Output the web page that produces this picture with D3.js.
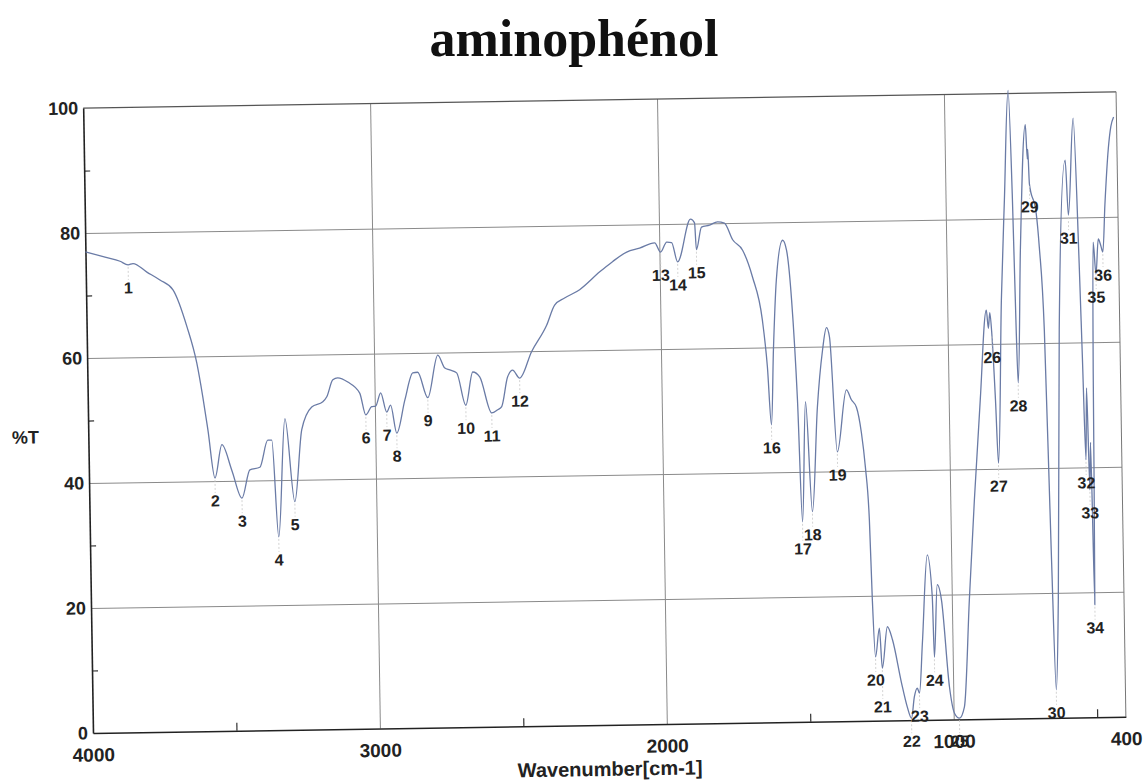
<!DOCTYPE html>
<html>
<head>
<meta charset="utf-8">
<script src="https://cdn.jsdelivr.net/npm/d3@7"></script>
<style>
  body { margin: 0; background: #fff; }
  svg { display: block; }
</style>
</head>
<body>
<svg id="chart" width="1144" height="783"></svg>
<script>
// IR spectrum of aminophenol: wavenumber (cm-1) against transmittance (%T)
const wavenumbers = [
  4000, 3932, 3880, 3852, 3835, 3787, 3742, 3697, 3650, 3618, 3599, 3583, 3561, 3535, 3502,
  3468, 3439, 3404, 3375, 3361, 3342, 3314, 3284, 3256, 3220, 3181, 3167, 3145, 3128, 3093,
  3052, 3032, 3011, 2997, 2979, 2959, 2945, 2925, 2895, 2866, 2849, 2815, 2778, 2754, 2737,
  2713, 2683, 2657, 2633, 2593, 2572, 2558, 2536, 2518, 2494, 2451, 2397, 2368, 2333, 2280,
  2209, 2164, 2114, 2069, 2016, 1996, 1974, 1957, 1937, 1890, 1876, 1871, 1852, 1824, 1796,
  1772, 1744, 1710, 1677, 1645, 1630, 1619, 1608, 1594, 1570, 1557, 1542, 1527, 1516, 1499,
  1481, 1458, 1437, 1422, 1412, 1391, 1356, 1339, 1322, 1306, 1294, 1283, 1277, 1269, 1254,
  1246, 1226, 1209, 1180, 1161, 1147, 1136, 1125, 1118, 1105, 1083, 1068, 1064, 1050, 1036,
  1013, 997, 980, 962, 939, 916, 890, 864, 858, 852, 846, 837, 830, 811, 795,
  776, 767, 761, 757, 742, 718, 713, 711, 707, 685, 676, 663, 651, 641, 629,
  611, 581, 573, 551, 538, 532, 525, 519, 513, 508, 502, 495, 488, 480, 470,
  462, 455, 445, 430, 420, 410
];
const transmittance = [
  77.0, 76.1, 75.4, 74.8, 75.0, 73.6, 72.3, 70.7, 64.7, 58.9, 53.5, 48.2, 40.5, 45.8, 41.7,
  37.2, 41.7, 42.1, 46.4, 46.4, 30.9, 49.8, 36.5, 48.0, 51.6, 52.4, 53.2, 55.9, 56.2, 55.5,
  53.7, 50.2, 51.5, 51.6, 53.7, 50.6, 51.7, 47.2, 52.5, 56.8, 56.9, 52.8, 59.6, 57.5, 57.2,
  56.7, 51.5, 56.8, 56.0, 50.2, 50.7, 51.2, 55.9, 57.0, 55.7, 59.9, 64.1, 67.3, 68.4, 69.7,
  72.5, 74.1, 75.6, 76.2, 77.0, 75.5, 77.1, 77.0, 73.9, 80.7, 80.1, 75.8, 79.4, 79.7, 80.2,
  80.0, 77.3, 75.6, 71.3, 64.4, 56.9, 47.6, 59.6, 70.8, 77.1, 75.5, 67.5, 51.5, 32.0, 51.2,
  33.6, 50.3, 59.4, 63.0, 61.5, 43.1, 53.0, 51.4, 50.2, 46.1, 40.6, 32.1, 19.3, 10.2, 14.8,
  8.4, 15.0, 12.9, 6.0, 2.1, 0.3, 3.7, 5.1, 4.3, 12.3, 26.4, 19.7, 10.0, 21.6, 19.1,
  5.2, 1.0, 0.2, 2.0, 19.1, 35.1, 51.1, 65.4, 62.5, 65.0, 61.5, 51.0, 40.9, 67.0, 83.0,
  100.5, 83.0, 62.2, 53.7, 75.0, 95.0, 89.5, 91.0, 85.5, 80.8, 75.4, 62.1, 26.9, 4.5, 18.9,
  62.1, 89.2, 80.4, 95.9, 72.7, 58.0, 41.2, 52.7, 36.4, 44.0, 18.0, 55.0, 76.0, 70.9, 76.5,
  75.5, 74.4, 82.0, 91.0, 94.5, 96.0
];

// numbered absorption bands
const peakNumbers = [
  1, 2, 3, 4, 5, 6, 7, 8, 9, 10, 11, 12, 13, 14, 15, 16, 17, 18,
  19, 20, 21, 22, 23, 24, 25, 26, 27, 28, 29, 30, 31, 32, 33, 34, 35, 36
];
const peakWavenumbers = [
  3852, 3561, 3468, 3342, 3284, 3032, 2959, 2925, 2815, 2683, 2593, 2494, 1996, 1937, 1871, 1619, 1516, 1481,
  1391, 1269, 1246, 1147, 1118, 1064, 980, 846, 830, 757, 707, 641, 573, 525, 513, 502, 480, 455
];

const xTicks = [4000, 3000, 2000, 1000, 400];
const xMinorTicks = [3500, 2500, 1500, 500];
const xGrid = [3000, 2000, 1000];
const yTicks = [0, 20, 40, 60, 80, 100];
const yMinorTicks = [10, 30, 50, 70, 90];
const yGrid = [20, 40, 60, 80];

const plotLeft = 93, plotRight = 1126, plotTop = 108, plotBottom = 733;
const x = d3.scaleLinear().domain([4000, 400]).range([plotLeft, plotRight]);
const y = d3.scaleLinear().domain([0, 100]).range([plotBottom, plotTop]);

const svg = d3.select("#chart");
const sans = "'Liberation Sans', Arial, sans-serif";

svg.append("text")
  .attr("x", 574).attr("y", 56)
  .attr("text-anchor", "middle")
  .attr("font-family", "'Liberation Serif', 'Times New Roman', serif")
  .attr("font-weight", "bold")
  .attr("font-size", 52)
  .attr("fill", "#111")
  .text("aminophénol");

// the printed sheet sits slightly tilted
const g = svg.append("g").attr("transform", `rotate(-0.9, ${plotLeft}, ${plotBottom})`);

// grid
g.append("g")
  .attr("transform", `translate(0,${plotBottom})`)
  .call(d3.axisBottom(x).tickValues(xGrid).tickSize(-(plotBottom - plotTop)).tickFormat(""))
  .call(s => s.select(".domain").remove())
  .call(s => s.selectAll("line").attr("stroke", "#8a8a8a").attr("stroke-width", 1));
g.append("g")
  .attr("transform", `translate(${plotLeft},0)`)
  .call(d3.axisLeft(y).tickValues(yGrid).tickSize(-(plotRight - plotLeft)).tickFormat(""))
  .call(s => s.select(".domain").remove())
  .call(s => s.selectAll("line").attr("stroke", "#8a8a8a").attr("stroke-width", 1));

// frame
g.append("line").attr("x1", plotLeft).attr("x2", plotRight).attr("y1", y(100)).attr("y2", y(100))
  .attr("stroke", "#555").attr("stroke-width", 1.2);
g.append("line").attr("x1", plotRight).attr("x2", plotRight).attr("y1", plotTop).attr("y2", plotBottom)
  .attr("stroke", "#777").attr("stroke-width", 1);

// minor ticks
g.append("g")
  .attr("transform", `translate(0,${plotBottom})`)
  .call(d3.axisBottom(x).tickValues(xMinorTicks).tickSize(-8).tickFormat(""))
  .call(s => s.select(".domain").remove())
  .call(s => s.selectAll("line").attr("stroke", "#333").attr("stroke-width", 1.2));
g.append("g")
  .attr("transform", `translate(${plotLeft},0)`)
  .call(d3.axisLeft(y).tickValues(yMinorTicks).tickSize(-6).tickFormat(""))
  .call(s => s.select(".domain").remove())
  .call(s => s.selectAll("line").attr("stroke", "#333").attr("stroke-width", 1.2));

// main axes
const xAxis = g.append("g")
  .attr("transform", `translate(0,${plotBottom})`)
  .call(d3.axisBottom(x).tickValues(xTicks).tickSize(0).tickPadding(15).tickFormat(d3.format("d")));
xAxis.select(".domain").attr("stroke", "#222").attr("stroke-width", 1.6);
xAxis.selectAll("text")
  .attr("font-family", sans).attr("font-size", 19).attr("font-weight", "bold").attr("fill", "#222");

const yAxis = g.append("g")
  .attr("transform", `translate(${plotLeft},0)`)
  .call(d3.axisLeft(y).tickValues(yTicks).tickSize(0).tickPadding(5));
yAxis.select(".domain").attr("stroke", "#222").attr("stroke-width", 1.6);
yAxis.selectAll("text")
  .attr("font-family", sans).attr("font-size", 18).attr("font-weight", "bold").attr("fill", "#222");

// axis titles
g.append("text")
  .attr("x", plotLeft - 63).attr("y", y(47.5)).attr("dy", "0.35em")
  .attr("text-anchor", "middle")
  .attr("font-family", sans).attr("font-size", 18).attr("font-weight", "bold").attr("fill", "#222")
  .text("%T");
g.append("text")
  .attr("x", (plotLeft + plotRight) / 2).attr("y", plotBottom + 51)
  .attr("text-anchor", "middle")
  .attr("font-family", sans).attr("font-size", 20).attr("font-weight", "bold").attr("fill", "#222")
  .text("Wavenumber[cm-1]");

// spectrum trace
const series = wavenumbers.map((w, i) => [w, transmittance[i]]);
const line = d3.line().x(d => x(d[0])).y(d => y(d[1])).curve(d3.curveMonotoneX);
g.append("path")
  .datum(series)
  .attr("d", line)
  .attr("fill", "none")
  .attr("stroke", "#6a7ba6")
  .attr("stroke-width", 1.3)
  .attr("stroke-linejoin", "round");

// band numbers, set below each minimum and moved when two collide
const peaks = peakNumbers.map((n, i) => {
  const w = peakWavenumbers[i];
  const t = transmittance[wavenumbers.indexOf(w)];
  return { n, w, t, px: x(w), py: y(t), ly: y(t) + 23 };
});
for (let i = 1; i < peaks.length; i++) {
  const a = peaks[i - 1], b = peaks[i];
  if (Math.abs(a.px - b.px) < 16 && Math.abs(a.ly - b.ly) < 14) {
    if (b.ly >= a.ly) b.ly = a.ly + 27; else a.ly = b.ly + 14;
  }
}
const pg = g.append("g");
pg.selectAll("line").data(peaks).join("line")
  .attr("x1", d => d.px).attr("x2", d => d.px)
  .attr("y1", d => d.py + 2).attr("y2", d => d.ly - 8)
  .attr("stroke", "#c8c8c8").attr("stroke-width", 0.8).attr("stroke-dasharray", "2,2");
pg.selectAll("text").data(peaks).join("text")
  .attr("x", d => d.px).attr("y", d => d.ly).attr("dy", "0.35em")
  .attr("text-anchor", "middle")
  .attr("font-family", sans).attr("font-size", 16).attr("font-weight", "bold").attr("fill", "#222")
  .text(d => d.n);
</script>
</body>
</html>
